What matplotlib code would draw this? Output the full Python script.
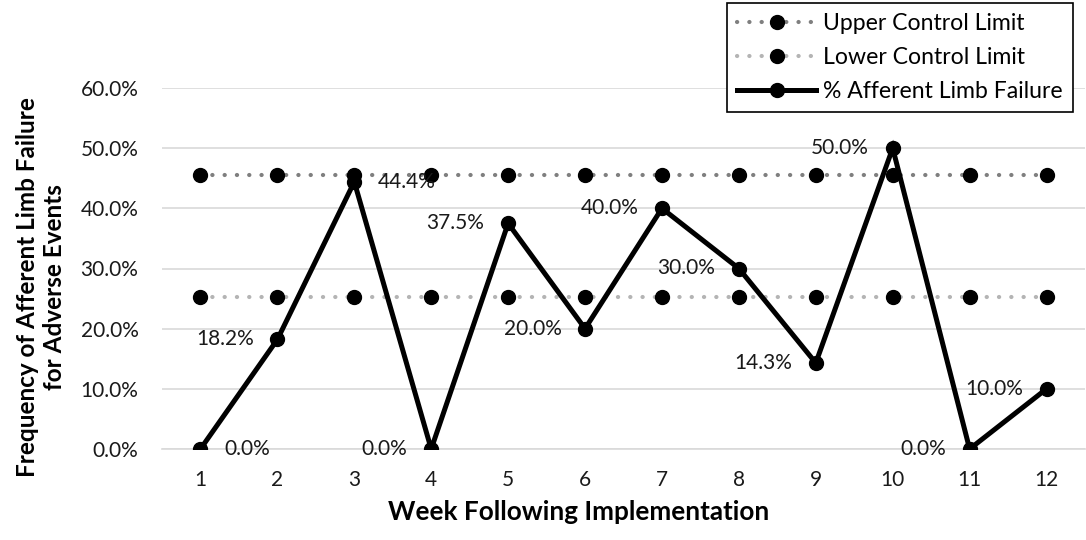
import matplotlib
matplotlib.use("Agg")
import matplotlib.pyplot as plt
from matplotlib.ticker import FuncFormatter, MultipleLocator

# Weekly afferent limb failure rate with control limits
weeks = [1, 2, 3, 4, 5, 6, 7, 8, 9, 10, 11, 12]
week_labels = [str(w) for w in weeks]
failure_pct = [0.0, 18.2, 44.4, 0.0, 37.5, 20.0, 40.0, 30.0, 14.3, 50.0, 0.0, 10.0]
upper_limit = [45.6] * 12
lower_limit = [25.3] * 12
label_side = ["right", "left", "right", "left", "left", "left",
              "left", "left", "left", "left", "left", "left"]

FONT = "Lato"
plt.rcParams["font.family"] = [FONT, "DejaVu Sans"]

fig = plt.figure(figsize=(10.86, 5.4), dpi=100)
ax = fig.add_axes([162 / 1086, 91 / 540, (1085 - 162) / 1086, (449 - 88) / 540])

dot_style = dict(linewidth=3.0, linestyle=(0, (0.05, 2.9)), dash_capstyle="round",
                 marker="o", markersize=10, markerfacecolor="black",
                 markeredgecolor="black")
ax.plot(weeks, upper_limit, color="#7f7f7f", label="Upper Control Limit", zorder=3, **dot_style)
ax.plot(weeks, lower_limit, color="#b4b4b4", label="Lower Control Limit", zorder=3, **dot_style)
ax.plot(weeks, failure_pct, color="black", linewidth=3.6, marker="o", markersize=10,
        label="% Afferent Limb Failure", zorder=4, solid_joinstyle="miter")

for w, v, side in zip(weeks, failure_pct, label_side):
    dx = 17 if side == "right" else -17
    ax.annotate(f"{v:.1f}%", (w, v), xytext=(dx, 0), textcoords="offset points",
                ha="left" if side == "right" else "right", va="center",
                fontsize=15, color="#1a1a1a", zorder=5)

ax.set_xlim(0.5, 12.5)
ax.set_ylim(0, 60)
ax.set_xticks(weeks)
ax.set_xticklabels(week_labels)
ax.yaxis.set_major_locator(MultipleLocator(10))
ax.yaxis.set_major_formatter(FuncFormatter(lambda y, _: f"{y:.1f}%"))
ax.tick_params(axis="both", length=0, labelsize=15, labelcolor="#1a1a1a")
ax.tick_params(axis="y", pad=17)
ax.tick_params(axis="x", pad=15)
ax.grid(axis="y", color="#d9d9d9", linewidth=1.2, zorder=0)
ax.set_axisbelow(True)
for s in ["top", "right", "left"]:
    ax.spines[s].set_visible(False)
ax.spines["bottom"].set_color("#d9d9d9")
ax.spines["bottom"].set_linewidth(1.2)
ax.patch.set_alpha(0)

fig.text(579 / 1086, 1 - 512 / 540, "Week Following Implementation",
         ha="center", va="center", fontsize=18.8, fontweight="bold")
fig.text(41 / 1086, 1 - 287 / 540, "Frequency of Afferent Limb Failure\nfor Adverse Events",
         ha="center", va="center", rotation=90, fontsize=17.5, fontweight="bold",
         linespacing=1.25)

leg = fig.legend(loc="upper left", bbox_to_anchor=(727 / 1086, 1 - 3 / 540),
                 fontsize=16.6, frameon=True, fancybox=False, edgecolor="black",
                 framealpha=1, handlelength=3.4, handletextpad=0.3,
                 borderpad=0.45, labelspacing=0.55, borderaxespad=0)
leg.get_frame().set_linewidth(1.2)

fig.savefig("out.png", dpi=100)
